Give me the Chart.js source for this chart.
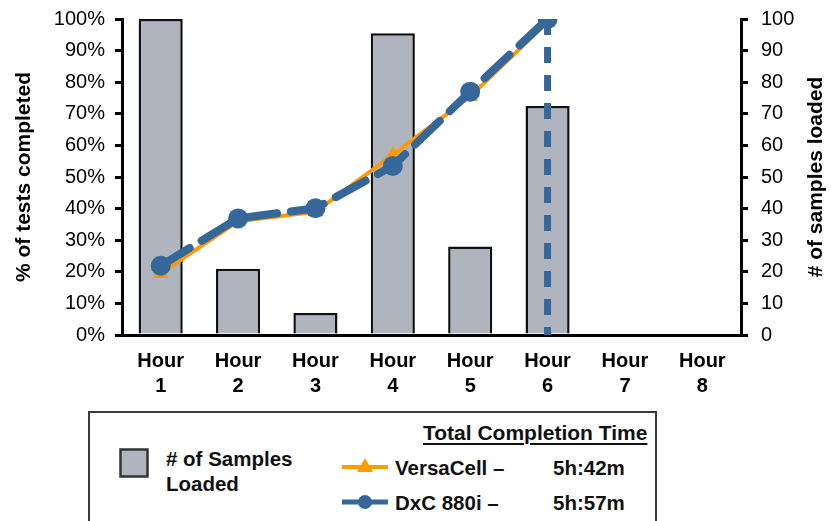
<!DOCTYPE html>
<html>
<head>
<meta charset="utf-8">
<script src="https://cdn.jsdelivr.net/npm/chart.js@4/dist/chart.umd.min.js"></script>
<style>
  body { margin: 0; width: 831px; height: 521px; overflow: hidden; background: #fff; font-family: 'Liberation Sans', Arial, sans-serif; }
  #wrap { position: absolute; left: 0; top: 0; width: 831px; height: 400px; }
  #legend { position: absolute; left: 88px; top: 411px; width: 569px; height: 130px; border: 2px solid #3a3a3a; box-sizing: border-box; }
  #legend .t { position: absolute; font-weight: bold; font-size: 20.5px; color: #111; white-space: nowrap; line-height: 25px; }
  #legend svg { position: absolute; }
</style>
</head>
<body>
<div id="wrap"><canvas id="chart" width="831" height="400"></canvas></div>
<div id="legend">
  <div class="t" style="left:333px;top:7px;font-size:21px;text-decoration:underline;text-decoration-thickness:2px;text-underline-offset:3px;">Total Completion Time</div>
  <svg style="left:29px;top:35px" width="30" height="30"><rect x="1.5" y="1.5" width="27" height="27" fill="#b0b4bf" stroke="#333" stroke-width="2.5"/></svg>
  <div class="t" style="left:76px;top:33px;">#&nbsp;of Samples<br>Loaded</div>
  <svg style="left:251px;top:43px" width="48" height="22"><line x1="1" y1="11" x2="47" y2="11" stroke="#ff9a00" stroke-width="4"/><polygon points="24,2 32,16 16,16" fill="#ff9a00"/></svg>
  <div class="t" style="left:305px;top:42px;">VersaCell –</div>
  <div class="t" style="left:463px;top:42px;">5h:42m</div>
  <svg style="left:251px;top:78px" width="48" height="22"><line x1="1" y1="11" x2="47" y2="11" stroke="#35679a" stroke-width="5"/><circle cx="24" cy="11" r="7" fill="#35679a"/></svg>
  <div class="t" style="left:305px;top:77px;">DxC 880i –</div>
  <div class="t" style="left:463px;top:77px;">5h:57m</div>
</div>
<script>
const hours = ['Hour 1', 'Hour 2', 'Hour 3', 'Hour 4', 'Hour 5', 'Hour 6', 'Hour 7', 'Hour 8']
const samplesLoaded = [100, 21, 7, 95.5, 28, 72.5, null, null]
const versaCell = [19.5, 36, 39, 57, 75.5, 99, null, null]
const dxc880i = [21.9, 36.9, 40.1, 53.5, 77, 100, null, null]
const dxcEndHour = 'Hour 6'
const dxcDrop = [100, 0]

const fontFamily = "'Liberation Sans', Arial, sans-serif"
const tickFont = { family: fontFamily, size: 20 }
const titleFont = { family: fontFamily, size: 21, weight: 'bold' }
const blue = '#35679a'
const orange = '#ff9a00'

// right axis title reads bottom-to-top in the original, chart.js rotates it the other way
const rightTitle = {
  id: 'rightTitle',
  afterDraw: (chart) => {
    const { ctx, chartArea } = chart
    ctx.save()
    ctx.translate(816, (chartArea.top + chartArea.bottom) / 2)
    ctx.rotate(-Math.PI / 2)
    ctx.font = `bold 21px ${fontFamily}`
    ctx.fillStyle = '#000'
    ctx.textAlign = 'center'
    ctx.textBaseline = 'middle'
    ctx.fillText('# of samples loaded', 0, 0)
    ctx.restore()
  }
}

// let the layout padding decide where the plot starts, not the tick label padding
const fitY = (width) => (scale) => {
  scale.width = width
  scale.paddingTop = 0
  scale.paddingBottom = 0
}

new Chart(document.getElementById('chart'), {
  type: 'bar',
  data: {
    labels: hours,
    datasets: [
      {
        type: 'line',
        label: 'DxC drop',
        data: dxcDrop.map((v) => ({ x: dxcEndHour, y: v })),
        yAxisID: 'y',
        borderColor: blue,
        borderWidth: 7,
        borderDash: [16, 12],
        pointRadius: 0,
        order: 1
      },
      {
        type: 'line',
        label: 'DxC 880i',
        data: dxc880i,
        yAxisID: 'y',
        borderColor: blue,
        backgroundColor: blue,
        borderWidth: 8,
        borderDash: [34, 14],
        borderCapStyle: 'round',
        pointStyle: 'circle',
        pointRadius: 10,
        pointBorderWidth: 0,
        order: 1
      },
      {
        type: 'line',
        label: 'VersaCell',
        data: versaCell,
        yAxisID: 'y',
        borderColor: orange,
        backgroundColor: orange,
        borderWidth: 4,
        pointStyle: 'triangle',
        pointRadius: 9,
        pointBorderWidth: 0,
        order: 2
      },
      {
        label: '# of Samples Loaded',
        data: samplesLoaded,
        yAxisID: 'y1',
        backgroundColor: '#b0b4bf',
        borderColor: '#111',
        borderWidth: 2.5,
        barPercentage: 0.57,
        categoryPercentage: 1,
        order: 3
      }
    ]
  },
  options: {
    responsive: false,
    animation: false,
    layout: { padding: { top: 19, bottom: 0, left: 0, right: 0 } },
    plugins: { legend: { display: false }, tooltip: { enabled: false } },
    scales: {
      x: {
        offset: true,
        grid: { display: false },
        border: { display: true, color: '#000', width: 3 },
        ticks: {
          color: '#000',
          padding: 6,
          maxRotation: 0,
          autoSkip: false,
          font: { family: fontFamily, size: 20, weight: 'bold', lineHeight: 1.25 },
          callback: function (value) { return this.getLabelForValue(value).split(' ') }
        },
        afterFit: (scale) => { scale.height = 65 }
      },
      y: {
        position: 'left',
        min: 0,
        max: 100,
        grid: { drawOnChartArea: false, color: '#000', lineWidth: 3, tickLength: 7 },
        border: { color: '#000', width: 3 },
        ticks: { stepSize: 10, color: '#000', padding: 10, font: tickFont, callback: (v) => `${v}%` },
        title: { display: true, text: '% of tests completed', color: '#000', font: titleFont, padding: { top: 12, bottom: 0 } },
        afterFit: fitY(122)
      },
      y1: {
        position: 'right',
        min: 0,
        max: 100,
        grid: { drawOnChartArea: false, color: '#000', lineWidth: 3, tickLength: 7 },
        border: { color: '#000', width: 3 },
        ticks: { stepSize: 10, color: '#000', padding: 13, font: tickFont },
        afterFit: fitY(90)
      }
    }
  },
  plugins: [rightTitle]
})
</script>
</body>
</html>
